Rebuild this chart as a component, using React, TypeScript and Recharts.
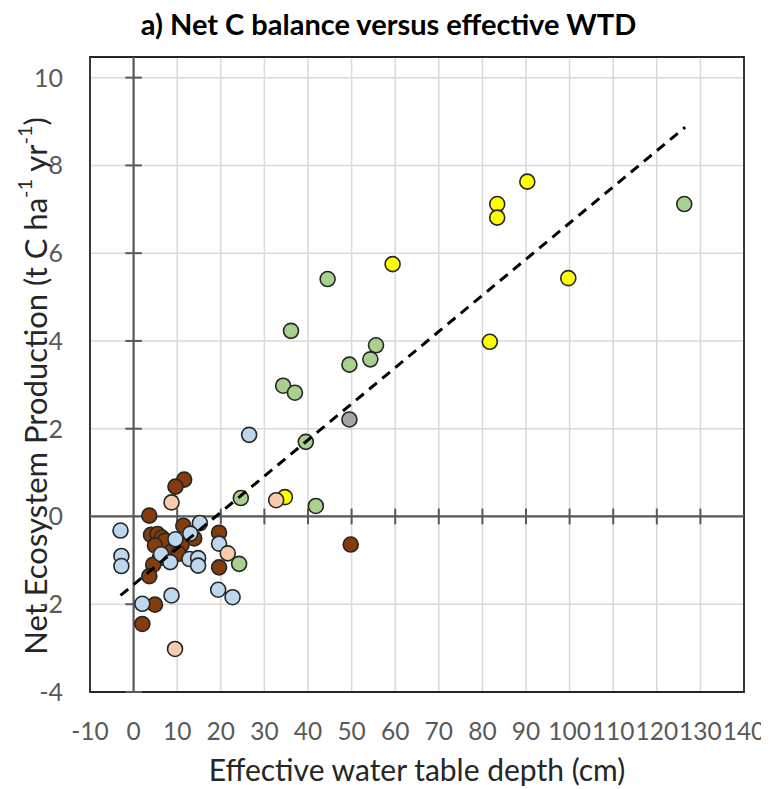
import React from 'react';
import { ScatterChart, Scatter, XAxis, YAxis, CartesianGrid, ReferenceLine, ReferenceArea, Label } from 'recharts';

const xTicks = [-10, 0, 10, 20, 30, 40, 50, 60, 70, 80, 90, 100, 110, 120, 130, 140];
const yTicks = [-4, -2, 0, 2, 4, 6, 8, 10];
const xDomain = [-10, 140];
const yDomain = [-4, 10.47];

const yellowPts = [[90.3, 7.63], [83.4, 7.12], [83.4, 6.81], [99.7, 5.43], [81.7, 3.98], [59.4, 5.75], [34.7, 0.44]];
const brownPts = [
  [11.6, 0.84], [9.6, 0.68], [3.6, 0.02], [11.4, -0.21], [4.0, -0.42], [5.5, -0.4], [6.5, -0.48],
  [7.2, -0.55], [13.9, -0.5], [11.0, -0.65], [4.9, -0.66], [8.7, -0.8], [10.3, -0.85], [6.0, -0.95],
  [4.5, -1.1], [3.6, -1.36], [19.6, -0.37], [19.6, -1.16], [49.8, -0.64], [4.9, -2.01], [2.0, -2.45],
];
const bluePts = [
  [26.5, 1.86], [-3.0, -0.32], [15.2, -0.15], [13.0, -0.39], [9.6, -0.52], [6.3, -0.86], [8.4, -1.04],
  [12.8, -0.97], [14.8, -0.95], [14.8, -1.12], [-2.8, -0.9], [-2.8, -1.13], [19.6, -0.62], [19.4, -1.67],
  [22.7, -1.84], [8.7, -1.8], [2.0, -1.99],
];
const peachPts = [[8.7, 0.32], [32.7, 0.37], [21.6, -0.84], [9.5, -3.02]];
const greenPts = [
  [126.3, 7.12], [44.5, 5.41], [36.1, 4.23], [55.6, 3.9], [54.3, 3.58], [49.5, 3.46], [34.3, 2.98],
  [37.0, 2.82], [39.5, 1.7], [24.6, 0.42], [41.8, 0.24], [24.2, -1.08],
];
const grayPts = [[49.5, 2.21]];
const trendPts = [[-3, -1.8], [126.5, 8.87]];

const toXY = (arr: number[][]) => arr.map(([x, y]) => ({ x, y }));

const FONT = 'Lato';
const TICK_COLOR = '#595959';
const AXIS_COLOR = '#595959';

const dot = (fill: string) => (p: any) => (
  <circle cx={p.cx} cy={p.cy} r={7.5} fill={fill} stroke="#262626" strokeWidth={1.6} />
);

const TICK_HALF_X = 1.9; // x-units half length of y-axis tick marks
const TICK_HALF_Y = 0.18; // y-units half length of x-axis tick marks

export default function App() {
  return (
    <div style={{ position: 'relative', width: 761, height: 781, fontFamily: FONT }}>
      <style>{'.recharts-surface{overflow:visible}'}</style>
      <ScatterChart width={761} height={781} margin={{ top: 49, right: 25, bottom: 57, left: 20 }}>
        <CartesianGrid stroke="#d9d9d9" strokeWidth={1.5} />
        <XAxis
          type="number"
          dataKey="x"
          domain={xDomain}
          ticks={xTicks}
          interval={0}
          axisLine={false}
          tickLine={false}
          tickSize={0}
          tickMargin={31}
          height={40}
          allowDataOverflow
          tick={{ fill: TICK_COLOR, fontSize: 24.5, fontFamily: FONT }}
        >
          <Label
            content={(props: any) => {
              const vb = props.viewBox || {};
              return (
                <text x={vb.x + vb.width / 2} y={773} textAnchor="middle" fontSize={30} fontFamily={FONT} fill="#262626">
                  Effective water table depth (cm)
                </text>
              );
            }}
          />
        </XAxis>
        <YAxis
          type="number"
          dataKey="y"
          domain={yDomain}
          ticks={yTicks}
          interval={0}
          axisLine={false}
          tickLine={false}
          tickSize={0}
          tickMargin={27}
          width={62}
          allowDataOverflow
          tick={{ fill: TICK_COLOR, fontSize: 25, fontFamily: FONT }}
        >
          <Label
            content={() => {
              const cx = 27;
              const cy = 378;
              return (
                <text x={cx} y={cy} textAnchor="middle" dominantBaseline="central" fontSize={31} fontFamily={FONT} fill="#262626" transform={`rotate(-90 ${cx} ${cy})`}>
                  Net Ecosystem Production (t C ha
                  <tspan dy={-11} fontSize={20}>-1</tspan>
                  <tspan dy={11}> yr</tspan>
                  <tspan dy={-11} fontSize={20}>-1</tspan>
                  <tspan dy={11}>)</tspan>
                </text>
              );
            }}
          />
        </YAxis>
        <ReferenceArea x1={xDomain[0]} x2={xDomain[1]} y1={yDomain[0]} y2={yDomain[1]} fill="none" stroke="#262626" strokeWidth={1.8} ifOverflow="visible" />
        <ReferenceLine x={0} stroke={AXIS_COLOR} strokeWidth={2.2} />
        <ReferenceLine y={0} stroke={AXIS_COLOR} strokeWidth={2.2} />
        {xTicks.filter((t) => t !== 0 && t !== xDomain[0] && t !== xDomain[1]).map((t) => (
          <ReferenceLine key={`xt${t}`} segment={[{ x: t, y: -TICK_HALF_Y }, { x: t, y: TICK_HALF_Y }]} stroke={AXIS_COLOR} strokeWidth={2} />
        ))}
        {yTicks.filter((t) => t !== 0).map((t) => (
          <ReferenceLine key={`yt${t}`} segment={[{ x: -TICK_HALF_X, y: t }, { x: TICK_HALF_X, y: t }]} stroke={AXIS_COLOR} strokeWidth={2} />
        ))}
        <Scatter data={toXY(yellowPts)} isAnimationActive={false} shape={dot('#FFFF00')} />
        <Scatter data={toXY(brownPts)} isAnimationActive={false} shape={dot('#843C0C')} />
        <Scatter data={toXY(bluePts)} isAnimationActive={false} shape={dot('#BDD7EE')} />
        <Scatter data={toXY(peachPts)} isAnimationActive={false} shape={dot('#F8CBAD')} />
        <Scatter data={toXY(greenPts)} isAnimationActive={false} shape={dot('#A9D18E')} />
        <Scatter data={toXY(grayPts)} isAnimationActive={false} shape={dot('#A6A6A6')} />
        <Scatter
          data={toXY(trendPts)}
          isAnimationActive={false}
          line={{ stroke: '#000', strokeWidth: 3, strokeDasharray: '10 7' }}
          shape={() => null}
        />
      </ScatterChart>
      <div
        style={{
          position: 'absolute',
          top: -1,
          left: 0,
          width: 761,
          textAlign: 'center',
          fontWeight: 700,
          fontSize: 29,
          lineHeight: '34px',
          color: '#000',
          fontFamily: FONT,
        }}
      >
        a) Net C balance versus effective WTD
      </div>
    </div>
  );
}
